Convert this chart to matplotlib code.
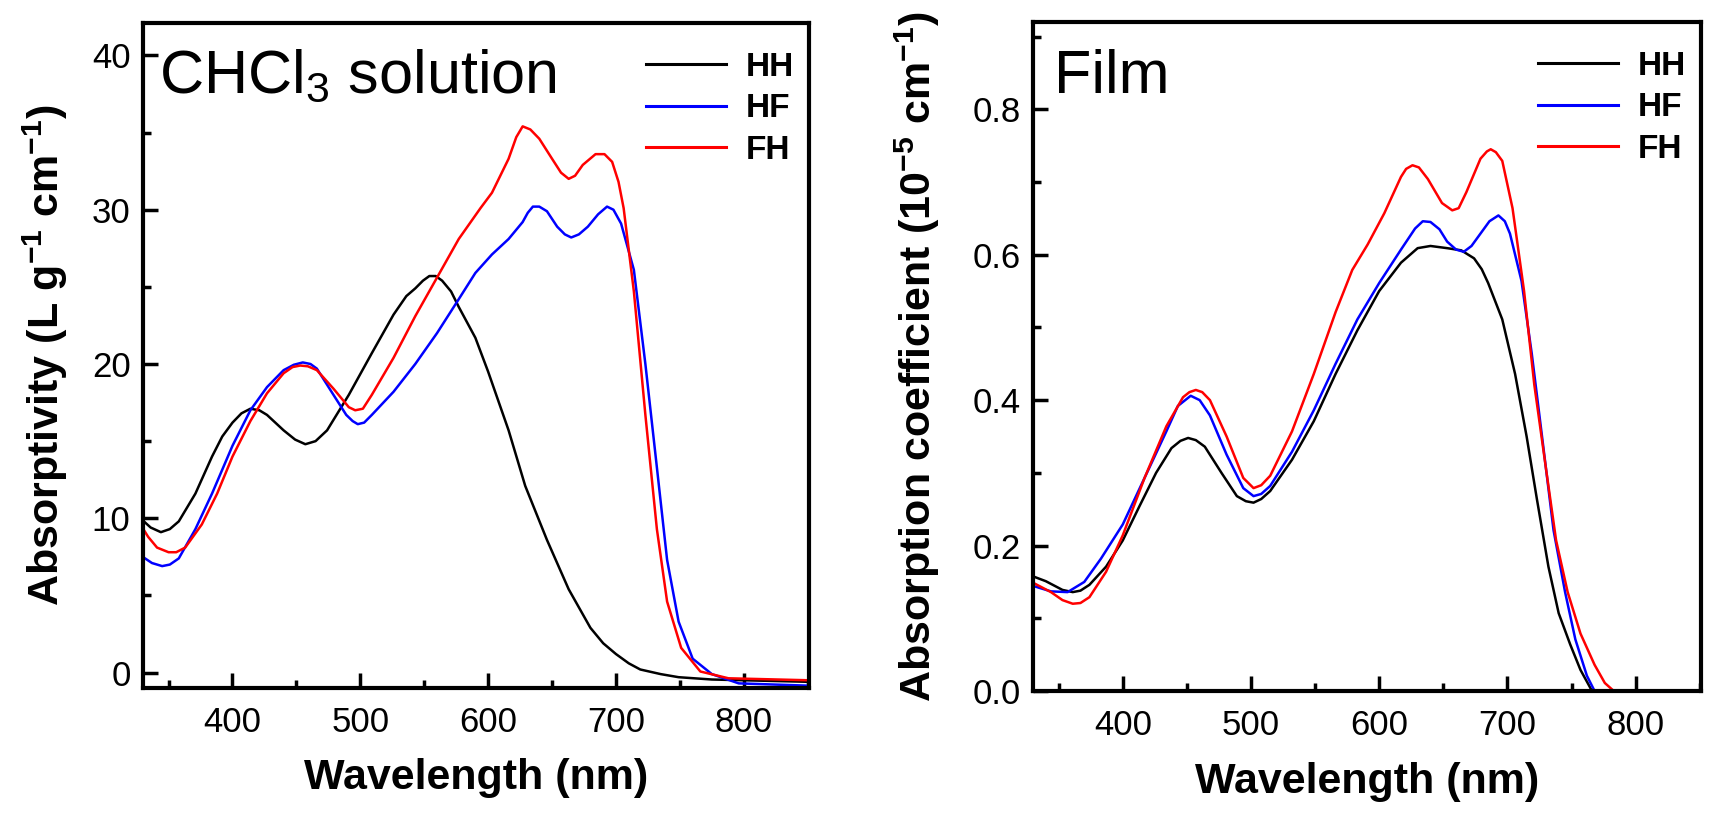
# Absorption spectra of HH / HF / FH: CHCl3 solution vs film
import numpy as np
import matplotlib.pyplot as plt
from matplotlib.ticker import MultipleLocator

plt.rcParams['font.family'] = ['Liberation Sans', 'DejaVu Sans']
plt.rcParams['mathtext.fontset'] = 'custom'
plt.rcParams['mathtext.rm'] = 'Liberation Sans'
plt.rcParams['mathtext.default'] = 'regular'

labels = ['HH', 'HF', 'FH']
colors = ['black', '#0000ff', '#ff0000']

# ---- solution data (L g^-1 cm^-1) ----
sol_hh_x = [328, 336, 344, 351, 358, 371, 384, 392, 400, 407, 414, 421, 427, 440, 449, 457, 465, 474,
            491, 509, 526, 536, 543, 549, 554, 559, 564, 571, 577, 590, 600, 616, 629, 646, 663, 680,
            690, 700, 710, 719, 735, 749, 775, 851]
sol_hh_y = [10.0, 9.4, 9.1, 9.3, 9.8, 11.6, 14.0, 15.3, 16.2, 16.8, 17.1, 17.0, 16.7, 15.7, 15.1, 14.8,
            15.0, 15.7, 18.0, 20.7, 23.2, 24.4, 24.9, 25.4, 25.7, 25.7, 25.4, 24.7, 23.7, 21.7, 19.5,
            15.7, 12.1, 8.6, 5.4, 2.9, 1.9, 1.2, 0.6, 0.2, -0.1, -0.3, -0.45, -0.6]

sol_hf_x = [328, 337, 345, 351, 358, 371, 384, 400, 414, 427, 440, 448, 455, 461, 466, 479, 489, 494,
            498, 503, 509, 526, 543, 560, 577, 590, 603, 616, 627, 631, 635, 640, 646, 654, 660, 665,
            671, 678, 686, 693, 698, 704, 714, 723, 732, 740, 749, 760, 775, 796, 851]
sol_hf_y = [7.6, 7.1, 6.9, 7.0, 7.4, 9.3, 11.6, 14.7, 17.0, 18.5, 19.6, 19.95, 20.1, 20.0, 19.7, 18.0,
            16.7, 16.3, 16.1, 16.2, 16.7, 18.2, 20.0, 22.0, 24.2, 25.9, 27.1, 28.1, 29.2, 29.8, 30.2,
            30.2, 29.9, 28.9, 28.4, 28.2, 28.4, 28.9, 29.7, 30.2, 30.0, 29.1, 26.1, 20.0, 13.3, 7.3,
            3.3, 0.9, -0.1, -0.7, -0.85]

sol_fh_x = [328, 334, 341, 350, 356, 363, 376, 388, 400, 414, 427, 440, 447, 453, 459, 466, 479, 491,
            496, 502, 509, 526, 543, 560, 577, 594, 603, 616, 622, 627, 633, 640, 650, 657, 663, 668,
            674, 684, 691, 697, 702, 706, 714, 723, 732, 740, 751, 766, 788, 851]
sol_fh_y = [9.6, 8.8, 8.1, 7.8, 7.8, 8.1, 9.6, 11.6, 14.0, 16.3, 18.1, 19.4, 19.8, 19.9, 19.85, 19.6,
            18.4, 17.2, 17.0, 17.1, 18.0, 20.4, 23.1, 25.6, 28.1, 30.1, 31.1, 33.3, 34.7, 35.4, 35.2,
            34.6, 33.3, 32.4, 32.0, 32.2, 32.9, 33.6, 33.6, 33.1, 31.8, 30.1, 24.7, 16.7, 9.3, 4.6,
            1.6, 0.07, -0.37, -0.5]

# ---- film data (10^-5 cm^-1) ----
film_hh_x = [331, 340, 353, 361, 367, 374, 387, 400, 413, 426, 438, 445, 451, 457, 464, 477, 489,
             496, 502, 508, 515, 532, 549, 566, 583, 600, 617, 630, 640, 653, 664, 674, 680, 685,
             696, 706, 715, 723, 732, 740, 749, 757, 766]
film_hh_y = [0.157, 0.151, 0.139, 0.136, 0.138, 0.146, 0.171, 0.207, 0.254, 0.300, 0.334, 0.344, 0.348,
             0.345, 0.336, 0.300, 0.268, 0.261, 0.259, 0.264, 0.275, 0.318, 0.371, 0.436, 0.496, 0.550,
             0.589, 0.609, 0.612, 0.609, 0.606, 0.595, 0.580, 0.561, 0.511, 0.436, 0.350, 0.264, 0.171,
             0.107, 0.064, 0.029, 0.0]

film_hf_x = [331, 344, 357, 370, 383, 400, 417, 434, 443, 453, 460, 468, 481, 494, 502, 508, 515, 532,
             549, 566, 583, 600, 617, 628, 634, 640, 647, 653, 660, 666, 672, 679, 686, 693, 698, 702,
             711, 719, 728, 736, 745, 753, 762, 768]
film_hf_y = [0.144, 0.137, 0.136, 0.150, 0.182, 0.229, 0.293, 0.357, 0.392, 0.406, 0.400, 0.379, 0.325,
             0.279, 0.268, 0.271, 0.282, 0.329, 0.386, 0.450, 0.511, 0.561, 0.607, 0.636, 0.646, 0.645,
             0.635, 0.618, 0.607, 0.604, 0.612, 0.629, 0.646, 0.654, 0.646, 0.629, 0.564, 0.464, 0.336,
             0.221, 0.136, 0.071, 0.021, 0.0]

film_fh_x = [331, 344, 353, 361, 367, 374, 387, 400, 417, 434, 447, 452, 457, 462, 468, 481, 494, 502,
             508, 515, 532, 549, 566, 579, 591, 604, 617, 621, 626, 631, 638, 649, 657, 662, 668, 679,
             684, 687, 691, 696, 704, 713, 721, 730, 738, 747, 757, 768, 776, 783]
film_fh_y = [0.148, 0.136, 0.125, 0.120, 0.121, 0.129, 0.164, 0.214, 0.293, 0.364, 0.404, 0.411, 0.414,
             0.411, 0.400, 0.350, 0.293, 0.279, 0.283, 0.296, 0.357, 0.436, 0.521, 0.579, 0.614, 0.657,
             0.707, 0.718, 0.723, 0.720, 0.704, 0.671, 0.661, 0.664, 0.686, 0.732, 0.742, 0.745, 0.741,
             0.729, 0.664, 0.550, 0.421, 0.307, 0.207, 0.136, 0.079, 0.036, 0.011, 0.0]


def style_axes(ax):
    for s in ax.spines.values():
        s.set_linewidth(3)
    ax.tick_params(which='both', direction='in', width=2.5, labelsize=25,
                   top=False, right=False)
    ax.tick_params(which='major', length=11)
    ax.tick_params(which='minor', length=6)
    ax.tick_params(axis='y', pad=9)
    ax.tick_params(axis='x', pad=13)
    ax.xaxis.set_major_locator(MultipleLocator(100))
    ax.xaxis.set_minor_locator(MultipleLocator(50))
    ax.set_xlim(330, 851)
    ax.set_xlabel('Wavelength (nm)', fontsize=31, fontweight='bold', labelpad=14)


fig = plt.figure(figsize=(17.17, 8.14), dpi=100)
ax1 = fig.add_axes([143 / 1717, 1 - 688 / 814, 666 / 1717, 665 / 814])
ax2 = fig.add_axes([1033 / 1717, 1 - 691 / 814, 668 / 1717, 669 / 814])

sol = [(sol_hh_x, sol_hh_y), (sol_hf_x, sol_hf_y), (sol_fh_x, sol_fh_y)]
film = [(film_hh_x, film_hh_y), (film_hf_x, film_hf_y), (film_fh_x, film_fh_y)]

for (x, y), lab, c in zip(sol, labels, colors):
    ax1.plot(x, y, color=c, lw=1.8, label=lab, solid_joinstyle='round')
for (x, y), lab, c in zip(film, labels, colors):
    ax2.plot(x, y, color=c, lw=1.8, label=lab, solid_joinstyle='round')

style_axes(ax1)
style_axes(ax2)

ax1.set_ylim(-1.0, 42.1)
ax1.yaxis.set_major_locator(MultipleLocator(10))
ax1.yaxis.set_minor_locator(MultipleLocator(5))
ax1.set_ylabel(r'Absorptivity (L g$^{-1}$ cm$^{-1}$)', fontsize=31, fontweight='bold', labelpad=16)

ax2.set_ylim(0, 0.92)
ax2.yaxis.set_major_locator(MultipleLocator(0.2))
ax2.yaxis.set_minor_locator(MultipleLocator(0.1))
ax2.yaxis.set_major_formatter(plt.FormatStrFormatter('%.1f'))
ax2.set_ylabel(r'Absorption coefficient (10$^{-5}$ cm$^{-1}$)', fontsize=31, fontweight='bold', labelpad=22)

ax1.text(0.024, 0.895, r'CHCl$_3$ solution', transform=ax1.transAxes, fontsize=44, va='baseline')
ax2.text(0.031, 0.894, 'Film', transform=ax2.transAxes, fontsize=44, va='baseline')

for ax in (ax1, ax2):
    ax.legend(loc='upper right', bbox_to_anchor=(0.978, 0.957), frameon=False,
              prop={'size': 24, 'weight': 'bold'},
              handlelength=2.4, handletextpad=0.6, labelspacing=0.32,
              borderaxespad=0, borderpad=0)
    for ln in ax.get_legend().get_lines():
        ln.set_linewidth(2.2)

fig.savefig('out.png', dpi=100)
